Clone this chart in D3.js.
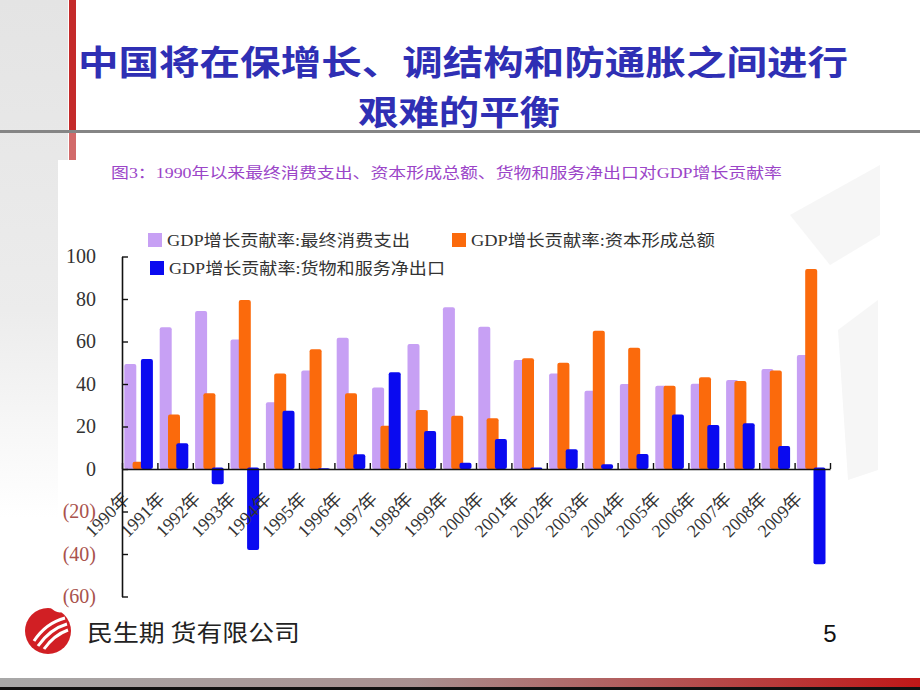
<!DOCTYPE html>
<html>
<head>
<meta charset="utf-8">
<script src="https://cdn.jsdelivr.net/npm/d3@7/dist/d3.min.js"></script>
<style>
  html, body { margin: 0; padding: 0; background: #fff; }
  svg { display: block; }
</style>
</head>
<body>
<div id="slide"></div>
<script>
// 数据
var years = ["1990年","1991年","1992年","1993年","1994年","1995年","1996年","1997年","1998年","1999年",
             "2000年","2001年","2002年","2003年","2004年","2005年","2006年","2007年","2008年","2009年"];
var consumption = [49.4,66.7,74.4,61.0,31.4,46.3,61.8,38.3,58.8,76.1,67.0,51.3,45.0,36.8,40.0,39.2,40.1,41.9,47.1,53.6];
var capital     = [3.4,25.7,35.6,79.5,45.0,56.3,35.6,20.4,27.8,25.1,23.9,52.1,50.0,65.1,57.1,39.2,43.2,41.4,46.3,94.1];
var netExport   = [51.8,12.1,-7.2,-38.1,27.4,0.3,6.9,45.5,17.9,3.0,14.1,-0.3,9.3,2.2,7.1,25.7,20.7,21.5,10.8,-44.8];
var seriesNames = ["GDP增长贡献率:最终消费支出","GDP增长贡献率:资本形成总额","GDP增长贡献率:货物和服务净出口"];
var yTicks = [-60,-40,-20,0,20,40,60,80,100];

var W = 920, H = 690;
var colors = ["#c7a0f4", "#fb6a0c", "#0a0af0"];

var svg = d3.select("#slide").append("svg")
    .attr("width", W)
    .attr("height", H);

var defs = svg.append("defs");
var g1 = defs.append("linearGradient").attr("id","strip").attr("x1",0).attr("y1",0).attr("x2",0).attr("y2",1);
g1.append("stop").attr("offset","0%").attr("stop-color","#e4e4e4");
g1.append("stop").attr("offset","45%").attr("stop-color","#ececec");
g1.append("stop").attr("offset","75%").attr("stop-color","#ffffff");
var g2 = defs.append("linearGradient").attr("id","foot").attr("x1",0).attr("y1",0).attr("x2",1).attr("y2",0);
g2.append("stop").attr("offset","0%").attr("stop-color","#a8a8a8");
g2.append("stop").attr("offset","45%").attr("stop-color","#a89090");
g2.append("stop").attr("offset","100%").attr("stop-color","#c01818");

//背景
svg.append("rect").attr("x",0).attr("y",0).attr("width",68).attr("height",H).attr("fill","url(#strip)");
svg.append("rect").attr("x",58).attr("y",160).attr("width",W-58).attr("height",515).attr("fill","#fff");
svg.append("rect").attr("x",69).attr("y",0).attr("width",7).attr("height",131).attr("fill","#c42a2a");
svg.append("rect").attr("x",69).attr("y",131).attr("width",7).attr("height",29).attr("fill","#d26a6a");
svg.append("rect").attr("x",0).attr("y",130).attr("width",W).attr("height",3).attr("fill","#858585");
svg.append("rect").attr("x",0).attr("y",678).attr("width",W).attr("height",9).attr("fill","url(#foot)");
svg.append("rect").attr("x",0).attr("y",687).attr("width",W).attr("height",3).attr("fill","#111");

// 右侧淡灰纹理
svg.append("path").attr("d","M790,215 L880,165 L880,235 L830,265 Z").attr("fill","#f6f6f6");
svg.append("path").attr("d","M838,330 L878,300 L878,470 L848,480 Z").attr("fill","#f6f6f6");

// 标题
svg.append("text").attr("x",463).attr("y",60)
    .attr("text-anchor","middle").attr("dominant-baseline","central")
    .style("font-family","'Noto Sans CJK SC'").style("font-weight","700")
    .style("font-size","34px").style("fill","#2f2fb4")
    .attr("textLength",770).attr("lengthAdjust","spacingAndGlyphs")
    .text("中国将在保增长、调结构和防通胀之间进行");
svg.append("text").attr("x",459).attr("y",110)
    .attr("text-anchor","middle").attr("dominant-baseline","central")
    .style("font-family","'Noto Sans CJK SC'").style("font-weight","700")
    .style("font-size","34px").style("fill","#2f2fb4")
    .attr("textLength",202).attr("lengthAdjust","spacingAndGlyphs")
    .text("艰难的平衡");

// 图表标题
svg.append("text").attr("x",111).attr("y",173)
    .attr("dominant-baseline","central")
    .style("font-family","'Liberation Serif','Noto Sans CJK SC'")
    .style("font-size","15px").style("fill","#9b45c8")
    .attr("textLength",671).attr("lengthAdjust","spacingAndGlyphs")
    .text("图3：1990年以来最终消费支出、资本形成总额、货物和服务净出口对GDP增长贡献率");

// 轴和尺度
var x = d3.scaleBand().domain(years).range([122, 830]).paddingInner(0).paddingOuter(0);
var xEdge = d3.scaleLinear().domain([0, years.length]).range([122, 830]);
var y = d3.scaleLinear().domain([-60, 100]).range([596.5, 256.5]);

var barW = 12, step = 8.3, off = 2.3;
var series = [consumption, capital, netExport];

var plot = svg.append("g");
series.forEach(function(vals, si){
  plot.selectAll(".bar" + si)
      .data(vals)
      .enter().append("rect")
      .attr("class", "bar" + si)
      .attr("x", function(d, i){ return x(years[i]) + off + si * step; })
      .attr("y", function(d){ return d >= 0 ? y(d) : y(0) - 1.5; })
      .attr("width", barW)
      .attr("height", function(d){ return Math.max(0, Math.abs(y(d) - y(0)) + (d < 0 ? 1.5 : 0)); })
      .attr("rx", 2)
      .attr("fill", colors[si]);
});

// x 轴
var xAxis = svg.append("g")
    .attr("transform", "translate(0," + y(0) + ")")
    .call(d3.axisBottom(xEdge).tickValues(d3.range(0, years.length + 1))
          .tickSize(-6).tickSizeOuter(0).tickFormat(""));
xAxis.select(".domain").attr("stroke","#111").attr("stroke-width",1.6);
xAxis.selectAll(".tick line").attr("stroke","#111").attr("stroke-width",1.4);

svg.append("g").selectAll("text")
    .data(years)
    .enter().append("text")
    .attr("transform", function(d){ return "translate(" + (x(d) + x.bandwidth()/2 - 9) + "," + (y(0) + 31) + ") rotate(-45)"; })
    .attr("text-anchor","end")
    .style("font-family","'Liberation Serif','Noto Sans CJK SC'")
    .style("font-size","18px").style("fill","#333")
    .text(function(d){ return d; });

// y 轴
var yAxis = svg.append("g")
    .attr("transform", "translate(122,0)")
    .call(d3.axisLeft(y).tickValues(yTicks).tickSize(-6).tickSizeOuter(0).tickPadding(26)
          .tickFormat(function(d){ return d < 0 ? "(" + (-d) + ")" : d; }));
yAxis.select(".domain").attr("stroke","#111").attr("stroke-width",1.6);
yAxis.selectAll(".tick line").attr("stroke","#111").attr("stroke-width",1.4);
yAxis.selectAll(".tick text")
    .style("font-family","'Liberation Serif'").style("font-size","20px")
    .style("fill", function(d){ return d < 0 ? "#a9524c" : "#333"; });

// 图例
var legendPos = [[148, 240], [452, 240], [150, 268]];
var legendLen = [243, 244, 276];
var lg = svg.append("g").selectAll("g")
    .data(seriesNames)
    .enter().append("g")
    .attr("transform", function(d, i){ return "translate(" + legendPos[i][0] + "," + legendPos[i][1] + ")"; });
lg.append("rect").attr("x",0).attr("y",-7).attr("width",14).attr("height",14)
    .attr("fill", function(d, i){ return colors[i]; });
lg.append("text").attr("x",19).attr("y",0).attr("dominant-baseline","central")
    .style("font-family","'Liberation Serif','Noto Sans CJK SC'")
    .style("font-size","16px").style("fill","#333")
    .attr("textLength", function(d, i){ return legendLen[i]; })
    .attr("lengthAdjust","spacingAndGlyphs")
    .text(function(d){ return d; });

// 页脚
var logo = svg.append("g").attr("transform","translate(48,631)");
logo.append("circle").attr("r",23).attr("fill","#d11f24");
logo.append("path").attr("d","M2,-24 Q8,-17 15,-19 L18,-26 Z").attr("fill","#fff");
logo.append("path").attr("d","M-14,10 Q-2,-8 17,-13").attr("fill","none").attr("stroke","#fff").attr("stroke-width",3);
logo.append("path").attr("d","M-10,15 Q2,-2 19,-7").attr("fill","none").attr("stroke","#fff").attr("stroke-width",3);
logo.append("path").attr("d","M-4,18 Q6,4 20,-1").attr("fill","none").attr("stroke","#fff").attr("stroke-width",3);

svg.append("text").attr("x",87).attr("y",631).attr("dominant-baseline","central")
    .style("font-family","'Noto Sans CJK SC'").style("font-size","23px").style("fill","#222")
    .attr("textLength",213).attr("lengthAdjust","spacingAndGlyphs")
    .text("民生期 货有限公司");
svg.append("text").attr("x",830).attr("y",633).attr("text-anchor","middle").attr("dominant-baseline","central")
    .style("font-family","'Liberation Sans'").style("font-size","24px").style("fill","#111")
    .text("5");
</script>
</body>
</html>
